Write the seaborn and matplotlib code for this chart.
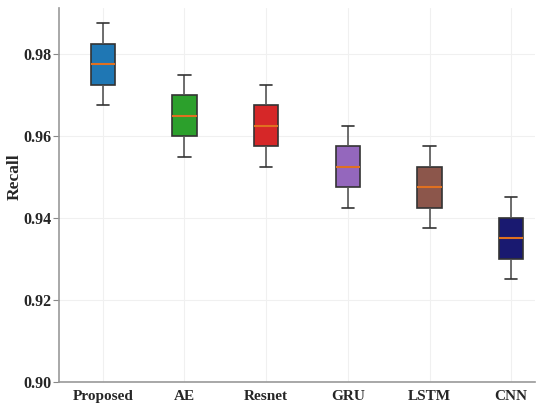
import numpy as np
import pandas as pd
import seaborn as sns
import matplotlib.pyplot as plt

sns.set_style("whitegrid")
plt.rcParams["font.family"] = ["Liberation Serif", "DejaVu Serif"]
plt.rcParams["font.weight"] = "bold"

# Recall samples per model (min, q1, median, q3, max)
models = ["Proposed", "AE", "Resnet", "GRU", "LSTM", "CNN"]
proposed = [0.9675, 0.9725, 0.9775, 0.9825, 0.9875]
ae = [0.9550, 0.9600, 0.9650, 0.9700, 0.9750]
resnet = [0.9525, 0.9575, 0.9625, 0.9675, 0.9725]
gru = [0.9425, 0.9475, 0.9525, 0.9575, 0.9625]
lstm = [0.9375, 0.9425, 0.9475, 0.9525, 0.9575]
cnn = [0.9250, 0.9300, 0.9350, 0.9400, 0.9450]
colors = ["#1f77b4", "#2ca02c", "#d62728", "#9467bd", "#8c564b", "#191970"]

df = pd.DataFrame({
    "Model": np.repeat(models, 5),
    "Recall": proposed + ae + resnet + gru + lstm + cnn,
})

fig = plt.figure(figsize=(5.36, 4.08), dpi=100)
ax = fig.add_axes([0.111, 0.064, 0.887, 0.916])

sns.boxplot(
    data=df, x="Model", y="Recall", hue="Model", palette=colors,
    order=models, width=0.3, legend=False, ax=ax, saturation=1,
    linewidth=1.2, linecolor="#333333",
    medianprops={"color": "#e07020", "linewidth": 1.5},
    whiskerprops={"color": "#555555"}, capprops={"color": "#333333"},
    boxprops={"edgecolor": "#333333"},
)

ax.set_xlim(-0.53, 5.29)
ax.set_ylim(0.90, 0.9912)
ax.set_yticks([0.90, 0.92, 0.94, 0.96, 0.98])
ax.set_yticklabels(["0.90", "0.92", "0.94", "0.96", "0.98"])
ax.tick_params(axis="y", length=4, color="#888888", labelsize=11.5, left=True, pad=1.5)
ax.tick_params(axis="x", length=0, labelsize=11, pad=6)
ax.set_xlabel("")
ax.set_ylabel("Recall", fontsize=12.5, fontweight="bold")
ax.yaxis.set_label_coords(-0.078, 0.548)
ax.grid(True, color="#f0f0f0", linewidth=0.8)

for side in ["top", "right"]:
    ax.spines[side].set_visible(False)
for side in ["left", "bottom"]:
    ax.spines[side].set_color("#999999")
    ax.spines[side].set_linewidth(1.2)

plt.savefig("out.png", dpi=100)
plt.close()
